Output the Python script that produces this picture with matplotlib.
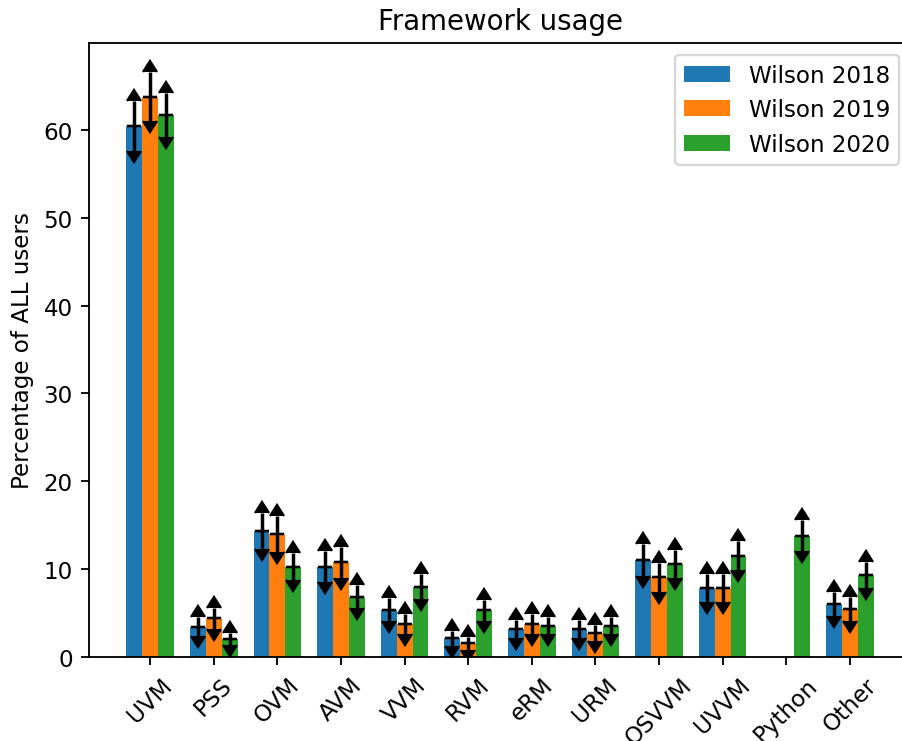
"""Framework usage bar chart (Wilson survey 2018-2020) with error arrows."""

import numpy as np
import matplotlib

matplotlib.use("Agg")
import matplotlib.pyplot as plt

FRAMEWORKS = ["UVM", "PSS", "OVM", "AVM", "VVM", "RVM", "eRM", "URM",
              "OSVVM", "UVVM", "Python", "Other"]
YEARS = ["Wilson 2018", "Wilson 2019", "Wilson 2020"]

# percentage of all users (nan = not surveyed that year)
usage_2018 = [60.4, 3.44, 14.37, 10.27, 5.38, 2.15, 3.18, 3.18, 11.07, 7.85, np.nan, 6.03]
usage_2019 = [63.8, 4.43, 14.0, 10.77, 3.75, 1.58, 3.75, 2.72, 9.07, 7.85, np.nan, 5.46]
usage_2020 = [61.75, 2.04, 10.27, 6.86, 8.0, 5.3, 3.55, 3.55, 10.58, 11.53, 13.8, 9.33]

err_2018 = [2.85, 1.06, 2.05, 1.77, 1.32, 0.85, 1.02, 1.02, 1.83, 1.57, np.nan, 1.39]
err_2019 = [2.80, 1.20, 2.02, 1.80, 1.11, 0.73, 1.11, 0.95, 1.67, 1.57, np.nan, 1.32]
err_2020 = [2.50, 0.73, 1.56, 1.30, 1.40, 1.15, 0.95, 0.95, 1.58, 1.64, 1.77, 1.50]


def main() -> None:
    fig = plt.figure(figsize=(902 / 166, 742 / 166), dpi=166)
    ax = fig.add_axes([89 / 902, 84 / 742, 822 / 902, 614 / 742])

    x = np.arange(len(FRAMEWORKS))
    width = 0.25
    series = [(usage_2018, err_2018), (usage_2019, err_2019), (usage_2020, err_2020)]
    for i, (label, (vals, errs)) in enumerate(zip(YEARS, series)):
        pos = x + (i - 1) * width
        ax.bar(pos, vals, width, label=label, color=f"C{i}")
        # old-style "both limits" arrows: one call per direction
        ax.errorbar(pos, vals, yerr=errs, fmt="none", color="black",
                    lolims=True, capsize=3.2)
        ax.errorbar(pos, vals, yerr=errs, fmt="none", color="black",
                    uplims=True, capsize=3.2)

    ax.set_xticks(x)
    ax.set_xticklabels(FRAMEWORKS, rotation=45)
    ax.set_xlim(-0.9625, 11.9625)
    ax.set_ylim(0, 69.9)
    ax.set_ylabel("Percentage of ALL users")
    ax.set_title("Framework usage")
    ax.legend(loc="upper right")

    fig.savefig("out.png", dpi=166)


if __name__ == "__main__":
    main()
